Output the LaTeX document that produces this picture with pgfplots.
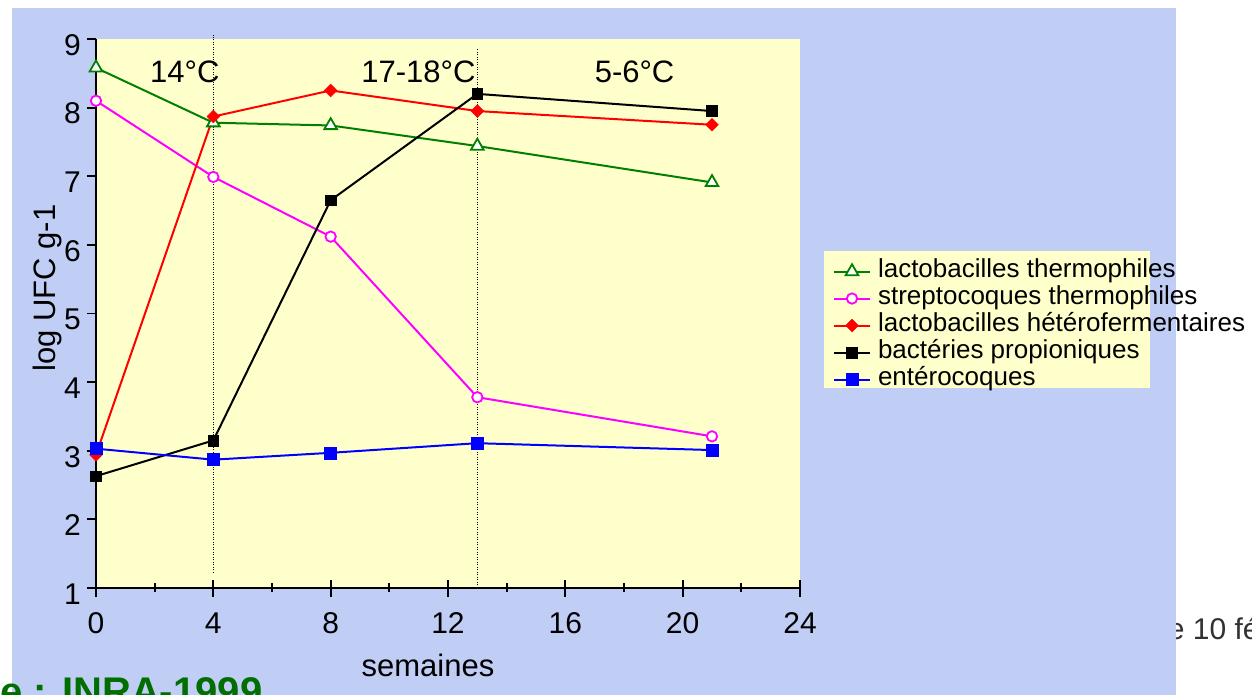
\documentclass[border=0pt]{standalone}
\usepackage{pgfplots}
\pgfplotsset{compat=1.18}
\usepackage{fontspec}
\setmainfont{Liberation Sans}
\definecolor{bgtex}{RGB}{192,205,245}
\definecolor{plotyel}{RGB}{255,255,204}
\definecolor{lgreen}{RGB}{0,128,0}
\definecolor{lmag}{RGB}{255,0,255}
\definecolor{lred}{RGB}{255,0,0}
\definecolor{lblue}{RGB}{0,0,255}
\definecolor{srcgreen}{RGB}{0,110,0}
\definecolor{dategray}{RGB}{50,50,50}
\begin{document}
\begin{tikzpicture}
\begin{scope}[shift={(-96pt,-107pt)}, x=1pt, y=1pt]
\useasboundingbox (0,0) rectangle (1252,695);
\fill[white] (0,0) rectangle (1252,695);
\node[anchor=base west, inner sep=0pt, text=dategray, font=\fontsize{30}{34}\selectfont] at (1161,55) {le 10 février};
\fill[bgtex] (12,0) rectangle (1176,687);
\fill[plotyel] (824,307) rectangle (1150,444);
\node[anchor=base east, inner sep=0pt, text=srcgreen, font=\bfseries\fontsize{40}{44}\selectfont] at (47,-10.6) {Source :};
\node[anchor=base west, inner sep=0pt, text=srcgreen, font=\bfseries\fontsize{40}{44}\selectfont] at (62,-10.6) {INRA-1999};
\end{scope}
\begin{axis}[
  scale only axis, width=704pt, height=549pt,
  xmin=0, xmax=24, ymin=1, ymax=9,
  axis lines=left, axis line style={-, line width=1.8pt},
  every tick/.style={black, line width=1.8pt},
  tick align=outside, major tick length=9pt, minor tick length=4.5pt,
  xtick={0,4,...,24}, minor xtick={2,6,...,22}, ytick={1,2,...,9},
  axis background/.style={fill=plotyel},
  clip=false,
  /pgf/number format/assume math mode=true,
  tick label style={font=\fontsize{30}{34}\selectfont},
  yticklabel style={inner sep=6pt, yshift=-6pt},
  xticklabel style={yshift=-12pt},
  label style={font=\fontsize{31}{36}\selectfont},
  xlabel={semaines},
  ylabel={log UFC g-1},
  xlabel style={at={(axis description cs:0.4716,-0.162)}, anchor=base},
  ylabel style={at={(axis description cs:-0.0696,0.546)}, anchor=center},
  legend style={at={(axis description cs:1.0469,0.601)}, anchor=north west,
    fill=none, draw=none, inner sep=0pt, outer sep=0pt, column sep=7pt, row sep=0pt,
    font=\fontsize{26}{27}\selectfont,
    nodes={inner sep=0pt, text height=19pt, text depth=8pt}},
  legend cell align=left,
  legend image code/.code={\draw[mark repeat=2, mark phase=2, #1] plot coordinates {(0pt,0pt) (18pt,0pt) (36pt,0pt)};},
]
\draw[line width=1pt, dash pattern=on 1pt off 1.5pt] (axis cs:4,1.22) -- (axis cs:4,9.06);
\draw[line width=1pt, dash pattern=on 1pt off 1.5pt] (axis cs:13,1) -- (axis cs:13,8.85);
\node[anchor=base, inner sep=0pt, font=\fontsize{31}{36}\selectfont] at (axis cs:3.03,8.373) {14°C};
\node[anchor=base, inner sep=0pt, font=\fontsize{31}{36}\selectfont] at (axis cs:10.99,8.373) {17-18°C};
\node[anchor=base, inner sep=0pt, font=\fontsize{31}{36}\selectfont] at (axis cs:18.36,8.373) {5-6°C};

\addplot[lgreen, line width=2pt, mark=triangle*, mark size=7.3pt, mark options={fill=white, draw=lgreen, line width=1.8pt}]
  coordinates {(0,8.58) (4,7.78) (8,7.74) (13,7.44) (21,6.91)};
\addplot[lmag, line width=2pt, mark=*, mark size=5.2pt, mark options={fill=white, draw=lmag, line width=1.8pt}]
  coordinates {(0,8.10) (4,6.99) (8,6.12) (13,3.78) (21,3.21)};
\addplot[lred, line width=2pt, mark=square*, mark size=4.5pt, mark options={fill=lred, draw=lred, line width=0.5pt, rotate=45}]
  coordinates {(0,2.94) (4,7.87) (8,8.25) (13,7.95) (21,7.75)};
\addplot[black, line width=2pt, mark=square*, mark size=5.3pt, mark options={fill=black, line width=0.5pt}]
  coordinates {(0,2.63) (4,3.15) (8,6.65) (13,8.20) (21,7.95)};
\addplot[lblue, line width=2pt, mark=square*, mark size=6pt, mark options={fill=lblue, line width=0.5pt}]
  coordinates {(0,3.03) (4,2.87) (8,2.97) (13,3.11) (21,3.01)};
\legend{lactobacilles thermophiles, streptocoques thermophiles, lactobacilles hétérofermentaires, bactéries propioniques, entérocoques}
\end{axis}
\begin{scope}[x=1pt, y=1pt]
\foreach \x in {0,4,...,24} \draw[line width=1.8pt] ({29.3333*\x},0) -- ++(0,8);
\foreach \x in {2,6,...,22} \draw[line width=1.8pt] ({29.3333*\x},0) -- ++(0,4.5);
\end{scope}
\end{tikzpicture}
\end{document}
